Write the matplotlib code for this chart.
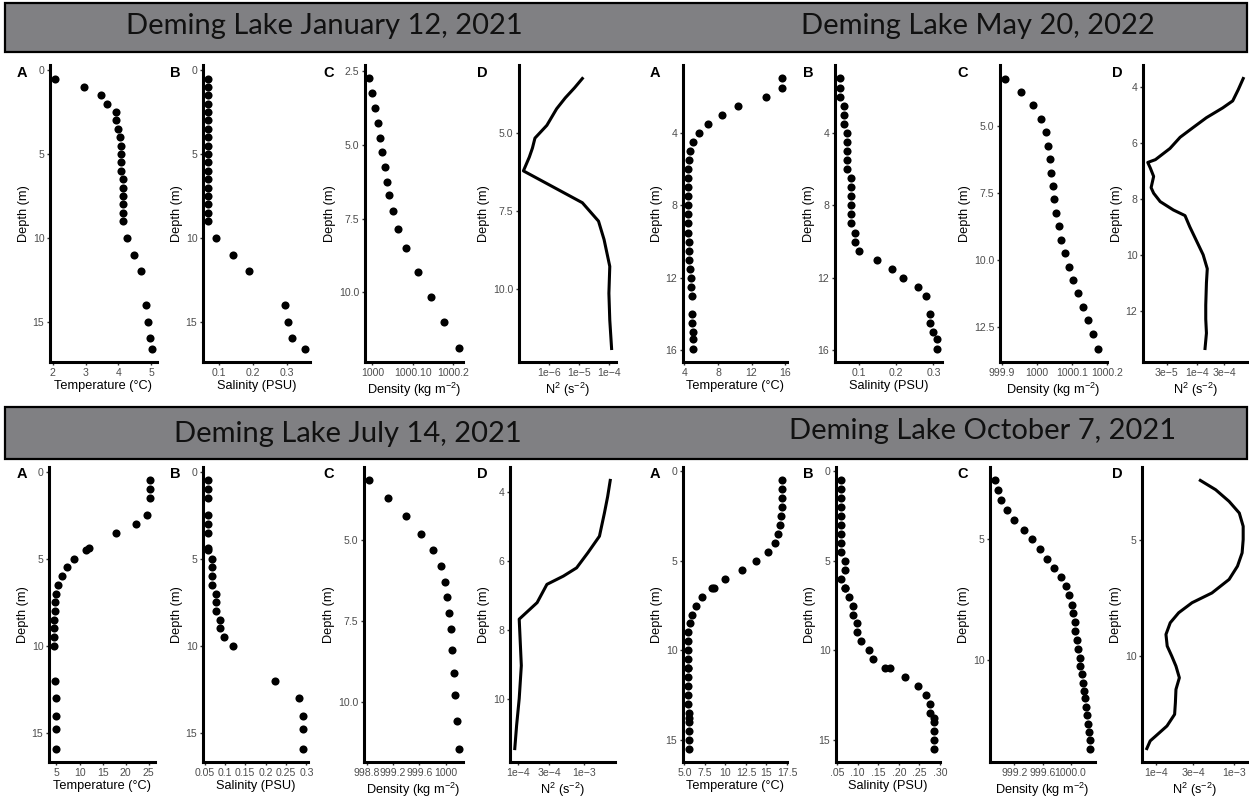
import numpy as np
import matplotlib.pyplot as plt
from matplotlib.patches import Rectangle
from matplotlib.ticker import NullLocator

plt.rcParams['font.family'] = ['Liberation Sans', 'DejaVu Sans']
plt.rcParams['mathtext.fontset'] = 'custom'
plt.rcParams['mathtext.rm'] = 'Liberation Sans'
plt.rcParams['mathtext.default'] = 'regular'

# ---- January 12, 2021 ----
jan_depth = [0.5, 1.0, 1.5, 2.0, 2.5, 3.0, 3.5, 4.0, 4.5, 5.0, 5.5, 6.0, 6.5, 7.0, 7.5,
             8.0, 8.5, 9.0, 10.0, 11.0, 12.0, 14.0, 15.0, 16.0, 16.6]
jan_temp = [2.06, 2.94, 3.48, 3.66, 3.93, 3.93, 3.99, 4.04, 4.09, 4.09, 4.09, 4.09, 4.14, 4.14, 4.14,
            4.14, 4.14, 4.14, 4.25, 4.48, 4.69, 4.85, 4.90, 4.97, 5.03]
jan_sal = [0.067, 0.067, 0.067, 0.067, 0.067, 0.067, 0.067, 0.067, 0.067, 0.067, 0.067, 0.067, 0.067,
           0.067, 0.067, 0.067, 0.067, 0.067, 0.090, 0.140, 0.190, 0.295, 0.305, 0.315, 0.355]
jan_rho_depth = [2.75, 3.25, 3.75, 4.25, 4.75, 5.25, 5.75, 6.25, 6.7, 7.25, 7.85, 8.5, 9.3, 10.15, 11.0, 11.9]
jan_rho = [999.993, 1000.000, 1000.007, 1000.013, 1000.019, 1000.025, 1000.031, 1000.036, 1000.042,
           1000.051, 1000.064, 1000.083, 1000.112, 1000.144, 1000.177, 1000.213]
jan_n2_depth = [3.26, 3.56, 3.88, 4.23, 4.76, 5.17, 5.49, 5.78, 6.22, 7.24, 7.83, 8.42, 9.28, 10.14, 11.0, 11.91]
jan_n2 = [1.3e-5, 7.1e-6, 3.5e-6, 1.8e-6, 8.5e-7, 3.4e-7, 2.8e-7, 2.2e-7, 1.4e-7, 1.3e-5, 4.5e-5,
          6.9e-5, 1.07e-4, 1.0e-4, 1.07e-4, 1.23e-4]

# ---- May 20, 2022 ----
may_depth = [1.0, 1.5, 2.0, 2.5, 3.0, 3.5, 4.0, 4.5, 5.0, 5.5, 6.0, 6.5, 7.0, 7.5, 8.0, 8.5, 9.0, 9.5,
             10.0, 10.5, 11.0, 11.5, 12.0, 12.5, 13.0, 14.0, 14.5, 15.0, 15.4, 15.9]
may_temp = [15.67, 15.67, 13.73, 10.34, 8.44, 6.80, 5.79, 5.01, 4.70, 4.51, 4.39, 4.39, 4.39, 4.39, 4.39,
            4.39, 4.47, 4.47, 4.51, 4.51, 4.58, 4.66, 4.74, 4.82, 4.89, 4.93, 4.93, 4.97, 4.97, 5.00]
may_sal = [0.05, 0.05, 0.05, 0.06, 0.06, 0.06, 0.07, 0.07, 0.07, 0.07, 0.07, 0.08, 0.08, 0.08, 0.08,
           0.08, 0.08, 0.09, 0.09, 0.10, 0.15, 0.19, 0.22, 0.26, 0.28, 0.29, 0.29, 0.30, 0.31, 0.31]
may_rho_depth = [3.25, 3.75, 4.25, 4.75, 5.25, 5.75, 6.25, 6.75, 7.25, 7.75, 8.25, 8.75, 9.25, 9.75,
                 10.25, 10.75, 11.25, 11.75, 12.25, 12.75, 13.3]
may_rho = [999.908, 999.954, 999.990, 1000.013, 1000.025, 1000.032, 1000.037, 1000.041, 1000.045,
           1000.050, 1000.055, 1000.062, 1000.070, 1000.080, 1000.092, 1000.104, 1000.118, 1000.132,
           1000.147, 1000.160, 1000.175]
may_n2_depth = [3.7, 4.1, 4.5, 4.75, 5.1, 5.45, 5.8, 6.2, 6.6, 6.7, 6.9, 7.2, 7.6, 7.8, 8.1, 8.4, 8.6,
                9.0, 9.5, 10.0, 10.5, 11.0, 11.8, 12.3, 12.8, 13.35]
may_n2 = [6.35e-4, 5.2e-4, 4.17e-4, 2.8e-4, 1.46e-4, 8.6e-5, 5.1e-5, 3.4e-5, 1.9e-5, 1.4e-5, 1.55e-5,
          1.77e-5, 1.6e-5, 1.77e-5, 2.3e-5, 3.9e-5, 6.2e-5, 7.5e-5, 9.8e-5, 1.28e-4, 1.51e-4, 1.46e-4,
          1.42e-4, 1.42e-4, 1.46e-4, 1.38e-4]

# ---- July 14, 2021 ----
jul_depth = [0.5, 1.0, 1.5, 2.5, 3.0, 3.5, 4.4, 4.5, 5.0, 5.5, 6.0, 6.5, 7.0, 7.5, 8.0, 8.5, 9.0, 9.5,
             10.0, 12.0, 13.0, 14.0, 14.8, 15.9]
jul_temp = [25.3, 25.3, 25.3, 24.6, 22.2, 18.0, 12.0, 11.3, 8.7, 7.3, 6.1, 5.36, 4.93, 4.72, 4.64, 4.43,
            4.43, 4.43, 4.43, 4.72, 4.86, 4.86, 4.86, 4.86]
jul_sal = [0.058, 0.058, 0.058, 0.058, 0.058, 0.058, 0.058, 0.058, 0.068, 0.068, 0.068, 0.068, 0.079,
           0.079, 0.079, 0.089, 0.089, 0.098, 0.119, 0.222, 0.282, 0.292, 0.292, 0.292]
jul_rho_depth = [3.15, 3.7, 4.25, 4.8, 5.3, 5.8, 6.3, 6.75, 7.25, 7.75, 8.4, 9.1, 9.8, 10.6, 11.45]
jul_rho = [998.83, 999.12, 999.39, 999.63, 999.80, 999.93, 999.99, 1000.02, 1000.05, 1000.07, 1000.09,
           1000.12, 1000.14, 1000.16, 1000.19]
jul_n2_depth = [3.66, 4.13, 4.61, 5.28, 5.76, 6.2, 6.44, 6.68, 7.21, 7.69, 9.04, 10.0, 10.77, 11.45]
jul_n2 = [2.54e-3, 2.32e-3, 2.07e-3, 1.74e-3, 1.16e-3, 7.8e-4, 4.9e-4, 2.75e-4, 1.95e-4, 1.04e-4,
          1.12e-4, 1.04e-4, 9.5e-5, 8.9e-5]

# ---- October 7, 2021 ----
oct_depth = [0.5, 1.0, 1.5, 2.0, 2.5, 3.0, 3.5, 4.0, 4.5, 5.0, 5.5, 6.0, 6.5, 6.5, 7.0, 7.5, 8.0, 8.5,
             9.0, 9.5, 10.0, 10.5, 11.0, 11.0, 11.5, 12.0, 12.5, 13.0, 13.5, 13.8, 14.0, 14.5, 15.0, 15.5]
oct_temp = [16.86, 16.86, 16.86, 16.86, 16.78, 16.66, 16.38, 15.99, 15.20, 13.73, 12.04, 9.98, 8.30,
            8.60, 7.13, 6.42, 5.95, 5.71, 5.47, 5.40, 5.40, 5.40, 5.40, 5.40, 5.43, 5.43, 5.43, 5.43,
            5.51, 5.51, 5.51, 5.51, 5.51, 5.51]
oct_sal = [0.059, 0.059, 0.059, 0.059, 0.059, 0.059, 0.059, 0.059, 0.059, 0.0695, 0.0695, 0.059, 0.0695,
           0.0695, 0.078, 0.089, 0.089, 0.098, 0.098, 0.109, 0.128, 0.138, 0.167, 0.179, 0.216, 0.247,
           0.266, 0.275, 0.275, 0.286, 0.286, 0.286, 0.286, 0.286]
oct_rho_depth = [2.55, 2.93, 3.35, 3.76, 4.2, 4.61, 5.0, 5.41, 5.8, 6.17, 6.54, 6.93, 7.31, 7.7, 8.06,
                 8.42, 8.79, 9.17, 9.55, 9.92, 10.26, 10.6, 10.95, 11.3, 11.6, 11.95, 12.3, 12.65, 13.0,
                 13.33, 13.68]
oct_rho = [998.92, 998.96, 999.01, 999.10, 999.20, 999.33, 999.45, 999.56, 999.67, 999.77, 999.87,
           999.93, 999.98, 1000.02, 1000.04, 1000.06, 1000.07, 1000.09, 1000.11, 1000.13, 1000.14,
           1000.16, 1000.18, 1000.19, 1000.21, 1000.22, 1000.24, 1000.25, 1000.26, 1000.27, 1000.28]
oct_n2_depth = [2.46, 2.86, 3.36, 3.86, 4.43, 5.0, 5.57, 6.14, 6.71, 7.29, 7.71, 8.14, 8.57, 9.07, 9.57,
                10.0, 10.43, 10.93, 11.43, 12.0, 12.5, 13.0, 13.43, 13.64, 13.97]
oct_n2 = [3.7e-4, 5.8e-4, 8.6e-4, 1.16e-3, 1.3e-3, 1.3e-3, 1.26e-3, 1.1e-3, 8.6e-4, 5.2e-4, 2.9e-4,
          1.96e-4, 1.53e-4, 1.35e-4, 1.4e-4, 1.6e-4, 1.81e-4, 2.0e-4, 1.81e-4, 1.78e-4, 1.74e-4,
          1.39e-4, 1.0e-4, 8.5e-5, 7.7e-5]

titles = ["Deming Lake January 12, 2021", "Deming Lake May 20, 2022",
          "Deming Lake July 14, 2021", "Deming Lake October 7, 2021"]
tags = ["A", "B", "C", "D"]

W, H = 1249, 801
fig = plt.figure(figsize=(W / 100, H / 100), dpi=100)

TICK_GREY = '#4D4D4D'


def px_axes(x0, x1, y0, y1):
    return fig.add_axes([x0 / W, 1 - y1 / H, (x1 - x0) / W, (y1 - y0) / H])


def profile(ax, x, depth, xlabel, xticks, xticklabels, yticks, yticklabels, line=False, logx=False):
    if line:
        ax.plot(x, depth, color='black', lw=2.2, solid_joinstyle='round')
    else:
        ax.scatter(x, depth, s=34, color='black', linewidths=0, zorder=3)
    if logx:
        ax.set_xscale('log')
    ax.margins(0.05)
    ax.invert_yaxis()
    ax.set_xticks(xticks)
    ax.set_xticklabels(xticklabels)
    ax.set_yticks(yticks)
    ax.set_yticklabels(yticklabels)
    ax.xaxis.set_minor_locator(NullLocator())
    ax.yaxis.set_minor_locator(NullLocator())
    for side in ['top', 'right']:
        ax.spines[side].set_visible(False)
    for side in ['left', 'bottom']:
        ax.spines[side].set_linewidth(2.2)
        ax.spines[side].set_color('black')
    ax.tick_params(length=2.5, width=1, color='#333333', labelcolor=TICK_GREY,
                   labelsize=7.6, pad=1.5)
    ax.set_xlabel(xlabel, fontsize=9.2, labelpad=2)
    ax.set_ylabel('Depth (m)', fontsize=9.2, labelpad=2)
    ax.set_facecolor('none')


T_LAB = 'Temperature (°C)'
S_LAB = 'Salinity (PSU)'
R_LAB = 'Density (kg m$^{-2}$)'
N_LAB = 'N$^{2}$ (s$^{-2}$)'

# banners across each row
for (y0, y1) in [(3, 52), (407, 459)]:
    fig.patches.append(Rectangle((5 / W, 1 - y1 / H), 1242 / W, (y1 - y0) / H,
                                 transform=fig.transFigure, facecolor='#808083',
                                 edgecolor='black', lw=1.6, zorder=0))

title_pos = [(324, 26), (978, 26), (348, 434), (983, 431)]
for t, (tx, ty) in zip(titles, title_pos):
    fig.text(tx / W, 1 - ty / H, t, ha='center', va='center', fontsize=21,
             family=['Lato', 'DejaVu Sans'], color='#111111')

# panel frames (left, right) for each row
row_top = (65, 362)
row_bot = (467, 762)
top_x = [(50, 157), (203, 310), (365, 463), (519, 616),
         (683, 787), (835, 942), (1000, 1107), (1143, 1248)]
bot_x = [(49, 155), (203, 308), (364, 463), (510, 615),
         (683, 787), (836, 940), (990, 1095), (1142, 1248)]
tag_x = [17, 170, 323, 477, 650, 803, 957, 1112]

axs_top = [px_axes(a, b, *row_top) for a, b in top_x]
axs_bot = [px_axes(a, b, *row_bot) for a, b in bot_x]

d05 = [0, 5, 10, 15]
d05_lab = ['0', '5', '10', '15']

# January
profile(axs_top[0], jan_temp, jan_depth, T_LAB, [2, 3, 4, 5], ['2', '3', '4', '5'], d05, d05_lab)
profile(axs_top[1], jan_sal, jan_depth, S_LAB, [0.1, 0.2, 0.3], ['0.1', '0.2', '0.3'], d05, d05_lab)
profile(axs_top[2], jan_rho, jan_rho_depth, R_LAB, [1000, 1000.1, 1000.2], ['1000', '1000.10', '1000.2'],
        [2.5, 5, 7.5, 10], ['2.5', '5.0', '7.5', '10.0'])
profile(axs_top[3], jan_n2, jan_n2_depth, N_LAB, [1e-6, 1e-5, 1e-4], ['1e\u22126', '1e\u22125', '1e\u22124'],
        [5, 7.5, 10], ['5.0', '7.5', '10.0'], line=True, logx=True)

# May
profile(axs_top[4], may_temp, may_depth, T_LAB, [4, 8, 12, 16], ['4', '8', '12', '16'],
        [4, 8, 12, 16], ['4', '8', '12', '16'])
profile(axs_top[5], may_sal, may_depth, S_LAB, [0.1, 0.2, 0.3], ['0.1', '0.2', '0.3'],
        [4, 8, 12, 16], ['4', '8', '12', '16'])
profile(axs_top[6], may_rho, may_rho_depth, R_LAB, [999.9, 1000, 1000.1, 1000.2],
        ['999.9', '1000', '1000.1', '1000.2'], [5, 7.5, 10, 12.5], ['5.0', '7.5', '10.0', '12.5'])
profile(axs_top[7], may_n2, may_n2_depth, N_LAB, [3e-5, 1e-4, 3e-4], ['3e\u22125', '1e\u22124', '3e\u22124'],
        [4, 6, 8, 10, 12], ['4', '6', '8', '10', '12'], line=True, logx=True)

# July
profile(axs_bot[0], jul_temp, jul_depth, T_LAB, [5, 10, 15, 20, 25], ['5', '10', '15', '20', '25'],
        d05, d05_lab)
profile(axs_bot[1], jul_sal, jul_depth, S_LAB, [0.05, 0.1, 0.15, 0.2, 0.25, 0.3],
        ['0.05', '0.1', '0.15', '0.2', '0.25', '0.3'], d05, d05_lab)
profile(axs_bot[2], jul_rho, jul_rho_depth, R_LAB, [998.8, 999.2, 999.6, 1000],
        ['998.8', '999.2', '999.6', '1000'], [5, 7.5, 10], ['5.0', '7.5', '10.0'])
profile(axs_bot[3], jul_n2, jul_n2_depth, N_LAB, [1e-4, 3e-4, 1e-3], ['1e\u22124', '3e\u22124', '1e\u22123'],
        [4, 6, 8, 10], ['4', '6', '8', '10'], line=True, logx=True)

# October
profile(axs_bot[4], oct_temp, oct_depth, T_LAB, [5, 7.5, 10, 12.5, 15, 17.5],
        ['5.0', '7.5', '10', '12.5', '15', '17.5'], d05, d05_lab)
profile(axs_bot[5], oct_sal, oct_depth, S_LAB, [0.05, 0.1, 0.15, 0.2, 0.25, 0.3],
        ['.05', '.10', '.15', '.20', '.25', '.30'], d05, d05_lab)
profile(axs_bot[6], oct_rho, oct_rho_depth, R_LAB, [999.2, 999.6, 1000.0],
        ['999.2', '999.6', '1000.0'], [5, 10], ['5', '10'])
profile(axs_bot[7], oct_n2, oct_n2_depth, N_LAB, [1e-4, 3e-4, 1e-3], ['1e\u22124', '3e\u22124', '1e\u22123'],
        [5, 10], ['5', '10'], line=True, logx=True)

# panel letters
for row_y in [73, 474]:
    for i, tx in enumerate(tag_x):
        fig.text(tx / W, 1 - row_y / H, tags[i % 4], ha='left', va='center',
                 fontsize=10.5, fontweight='bold')

fig.savefig('out.png', dpi=100)
